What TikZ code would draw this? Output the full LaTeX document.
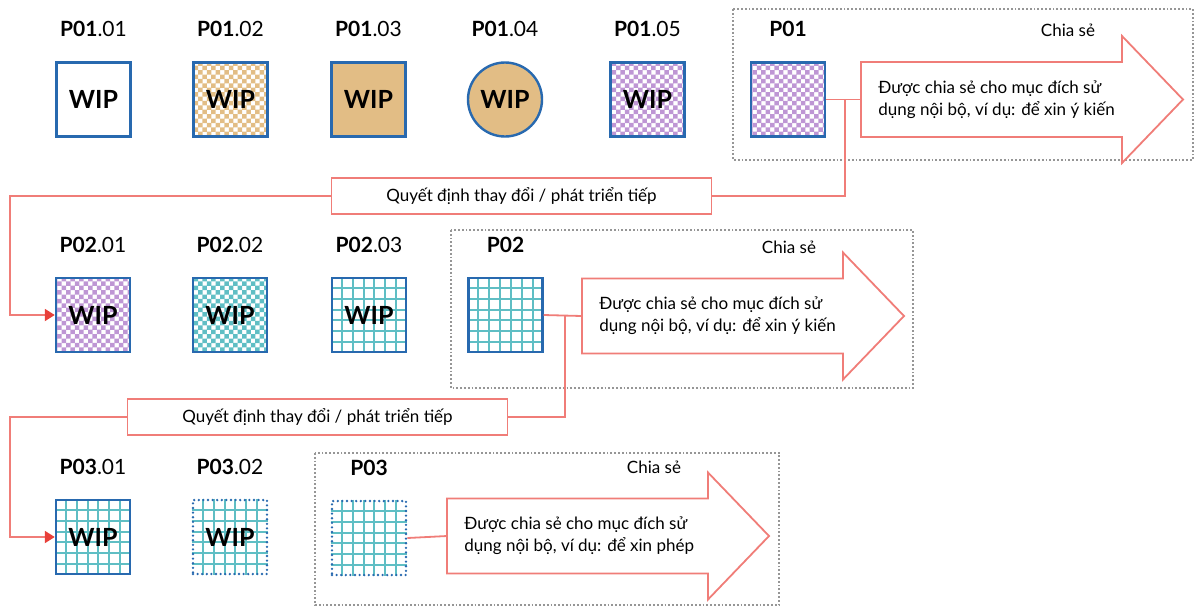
\documentclass[tikz,border=0pt]{standalone}
\usepackage{fontspec}
\setmainfont{Lato}
\usetikzlibrary{arrows.meta,positioning,patterns,calc,backgrounds}

\definecolor{boxblue}{RGB}{40,105,175}
\definecolor{tan}{RGB}{226,189,133}
\definecolor{lilac}{RGB}{190,150,212}
\definecolor{tealc}{RGB}{95,190,196}
\definecolor{salmon}{RGB}{240,125,120}
\definecolor{arrowred}{RGB}{232,64,58}
\definecolor{framegray}{RGB}{150,150,150}

% small checkerboard, 2.2pt squares
\pgfdeclarepatternformonly{finecheck}{\pgfqpoint{-.1pt}{-.1pt}}{\pgfqpoint{4.5pt}{4.5pt}}{\pgfqpoint{4.4pt}{4.4pt}}{%
  \pgfpathrectangle{\pgfqpoint{0pt}{0pt}}{\pgfqpoint{2.25pt}{2.25pt}}%
  \pgfpathrectangle{\pgfqpoint{2.2pt}{2.2pt}}{\pgfqpoint{2.25pt}{2.25pt}}%
  \pgfusepath{fill}}

\begin{document}
\begin{tikzpicture}[x=0.5pt,y=-0.5pt,
  wip/.style={draw=boxblue, line width=1.2pt, minimum size=37pt, inner sep=0pt,
    font=\fontsize{12.5}{12}\selectfont\bfseries},
  checked/.style={pattern=finecheck, pattern color=#1},
  gridline/.style={tealc, line width=1pt},
  dotborder/.style={draw=boxblue, line width=1.3pt, line cap=round, dash pattern=on 0pt off 2.3pt},
  tag/.style={inner sep=0pt, font=\fontsize{10.5}{12}\selectfont},
  frame/.style={draw=framegray, densely dotted, line width=0.9pt},
  flow/.style={draw=salmon, line width=0.9pt},
  decbox/.style={flow, fill=white, minimum width=190pt, minimum height=18pt, inner sep=0pt,
    font=\fontsize{8.5}{10}\selectfont},
  txt/.style={inner sep=0pt, align=left, font=\fontsize{8.5}{11}\selectfont},
  tip/.style={-{Triangle[length=5pt,width=6pt,color=arrowred]}},
]
\useasboundingbox (0,0) rectangle (1203,607);

% dotted frames round the shared versions
\draw[frame] (733,9) rectangle (1193,160);
\draw[frame] (451,230) rectangle (913,388);
\draw[frame] (315,453) rectangle (779,605);

% row 1
\node[wip] (p0101) at (93.5,99.5) {WIP};
\node[wip, checked=tan] (p0102) at (230.5,99.5) {WIP};
\node[wip, fill=tan] (p0103) at (368.5,99.5) {WIP};
\node[wip, circle, fill=tan] (p0104) at (505,99.5) {WIP};
\node[wip, checked=lilac] (p0105) at (647.5,99.5) {WIP};
\node[wip, checked=lilac] (p01) at (788,99.5) {};

% row 2
\node[wip, checked=lilac] (p0201) at (93,315) {WIP};
\node[wip, checked=tealc] (p0202) at (230,315) {WIP};
\node[wip] (p0203) at (369,315) {WIP};
\node[wip] (p02) at (505.5,315) {};

% row 3
\node[wip] (p0301) at (93,537) {WIP};
\node[wip, dotborder] (p0302) at (230,537) {WIP};
\node[wip, dotborder] (p03) at (369,538) {};

% grids behind the open boxes
\begin{scope}[on background layer]
  \foreach \n in {p0203,p02,p0301,p0302,p03}
    \foreach \k in {1,...,6} {
      \draw[gridline] ($(\n.north west)!\k/7!(\n.north east)$) -- ($(\n.south west)!\k/7!(\n.south east)$);
      \draw[gridline] ($(\n.north west)!\k/7!(\n.south west)$) -- ($(\n.north east)!\k/7!(\n.south east)$);
    }
\end{scope}

% labels
\foreach \n/\a/\b in {p0101/P01/01, p0102/P01/02, p0103/P01/03, p0104/P01/04, p0105/P01/05,
                      p0201/P02/01, p0202/P02/02, p0203/P02/03, p0301/P03/01, p0302/P03/02}
  \node[tag, above=12pt of \n] {\textbf{\a}.\b};
\foreach \n/\a in {p01/P01, p02/P02, p03/P03}
  \node[tag, above=12pt of \n] {\textbf{\a}};

% big share arrows
\coordinate (tail1) at (861,99.5);
\coordinate (tail2) at (582,316);
\coordinate (tail3) at (447,536);
\foreach \t/\w in {tail1/ý kiến, tail2/ý kiến, tail3/phép} {
  \draw[flow, fill=white] (\t) ++(0,-37.5) -- ++(261,0) -- ++(0,-26) -- ++(61,63.5)
    -- ++(-61,63.5) -- ++(0,-26) -- ++(-261,0) -- cycle;
  \node[txt, anchor=west] at ($(\t)+(17,0)$) {Được chia sẻ cho mục đích sử\\dụng nội bộ, ví dụ: để xin \w};
  \node[txt] at ($(\t)+(207,-69)$) {Chia sẻ};
}

% decisions
\node[decbox] (dec1) at (521.5,196) {Quyết định thay đổi / phát triển tiếp};
\node[decbox] (dec2) at (317.5,417) {Quyết định thay đổi / phát triển tiếp};

% connectors
\coordinate (j1) at ($(p01.east)!0.55!(tail1)$);
\coordinate (j2) at ($(p02.east)!0.55!(tail2)$);
\draw[flow] (p01.east) -- (tail1);
\draw[flow] (p02.east) -- (tail2);
\draw[flow] (p03.east) -- (tail3);
\draw[flow] (j1) |- (dec1.east);
\draw[flow] (j2) |- (dec2.east);
\draw[flow, tip] (dec1.west) -| ([xshift=-22.5pt]p0201.west) -- (p0201.west);
\draw[flow, tip] (dec2.west) -| ([xshift=-22.5pt]p0301.west) -- (p0301.west);
\end{tikzpicture}
\end{document}
